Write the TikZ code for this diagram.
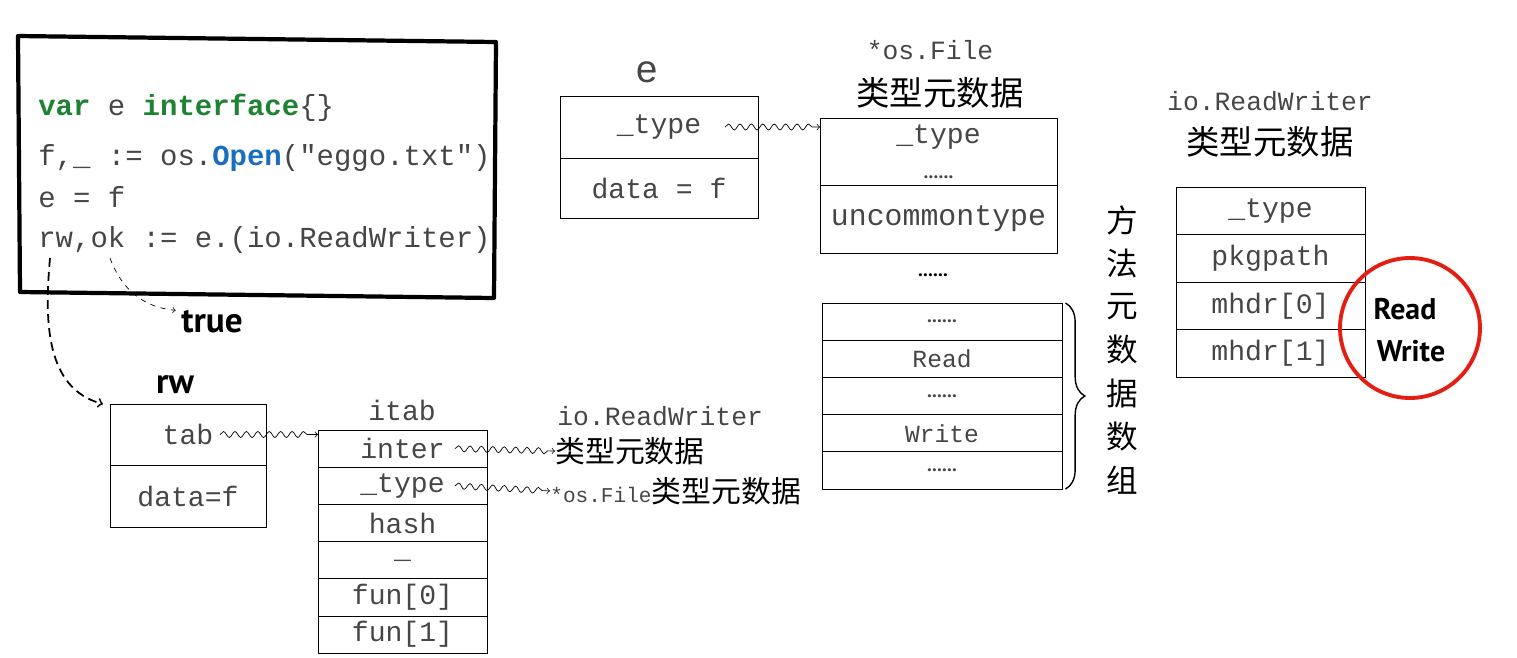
\documentclass[tikz,border=0pt]{standalone}
\usepackage{fontspec}
\usepackage{xcolor}
\usetikzlibrary{positioning,decorations.pathmorphing,decorations.pathreplacing}
\setmonofont{Liberation Mono}
\newfontfamily\cjk{Noto Sans CJK SC}
\newfontfamily\hand{PT Sans}
\definecolor{kwgreen}{RGB}{30,130,50}
\definecolor{kwblue}{RGB}{25,110,190}
\definecolor{txtgray}{RGB}{70,70,70}
\definecolor{markred}{RGB}{228,30,20}
\newcommand{\dotrow}{{\hand\bfseries\fontsize{11}{12}\selectfont ......}}

\begin{document}
\begin{tikzpicture}[x=0.02cm,y=-0.02cm]
        \tikzstyle{codeline}=[anchor=base west, inner sep=0pt, text=txtgray, font=\ttfamily\fontsize{16.5}{18}\selectfont]
        \tikzstyle{cell}=[rectangle, draw=black, thin, inner sep=0pt, outer sep=0pt, text=txtgray, font=\ttfamily\fontsize{16}{18}\selectfont]
        \tikzstyle{small cell}=[cell, font=\ttfamily\fontsize{14}{16}\selectfont]
        \tikzstyle{mono}=[inner sep=0pt, text=txtgray, font=\ttfamily\fontsize{15}{17}\selectfont]
        \tikzstyle{cjklabel}=[inner sep=0pt, font=\cjk\fontsize{19}{22}\selectfont]
        \tikzstyle{hw}=[inner sep=0pt, font=\hand\bfseries\fontsize{20}{22}\selectfont]
        \tikzstyle{wavy}=[->, decorate, decoration={snake, amplitude=1.7pt, segment length=6.5pt, post length=4pt}]

        \useasboundingbox (0,0) rectangle (1517,657);

        % code
        \draw[line width=2.4pt, line join=round] (18,36) -- (496,42) -- (494,298) -- (20,292) -- cycle;
        \node[codeline] (line1) at (38,115) {\textcolor{kwgreen}{\textbf{var}} e \textcolor{kwgreen}{\textbf{interface}}\{\}};
        \node[codeline] (line2) at (38,165) {f,\_ := os.\textcolor{kwblue}{\textbf{Open}}("eggo.txt")};
        \node[codeline] (line3) at (38,207) {e = f};
        \node[codeline] (line4) at (38,247) {rw,ok := e.(io.ReadWriter)};
        \coordinate (rw-src) at (50,258);
        \coordinate (ok-src) at (110,258);

        \node[hw] (true) at (212,322) {true};
        \draw[->, dashed, thin] (ok-src) to[out=-70, in=175] ([xshift=-3pt]true.north west);

        % rw
        \node[hw] (rw-name) at (175,385) {rw};
        \node[cell, minimum width=3.12cm, minimum height=1.22cm] (rw-tab) at (188,434.5) {tab};
        \node[cell, minimum width=3.12cm, minimum height=1.24cm, below=0pt of rw-tab] (rw-data) {data=f};
        \draw[->, line width=1pt, dash pattern=on 5pt off 3pt] (rw-src) to[out=-95, in=165] ([xshift=-4pt]rw-tab.north west);

        % itab
        \node[mono, font=\ttfamily\fontsize{16}{18}\selectfont] (itab-name) at (402,410) {itab};
        \foreach \name [count=\i] in {inter, \_type, hash, \_, fun[0], fun[1]}
            \node[cell, minimum width=3.38cm, minimum height=0.744cm] (itab-\i) at (402.5,{430+37.2*\i-18.6}) {\name};
        \draw[wavy] ([xshift=-0.92cm]rw-tab.east) -- (itab-1.west |- rw-tab.east);

        \node[mono, anchor=west] (rwtype-name) at (557,416) {io.ReadWriter};
        \node[cjklabel, anchor=west, font=\cjk\fontsize{17}{20}\selectfont] (rwtype) at (555,451) {类型元数据};
        \node[anchor=west, inner sep=0pt] (filetype) at (550,491) {{\ttfamily\color{txtgray}\fontsize{12}{14}\selectfont *os.File}{\cjk\fontsize{17}{20}\selectfont 类型元数据}};
        \draw[wavy] ([xshift=-0.64cm]itab-1.east) -- (rwtype.west);
        \draw[wavy] ([xshift=-0.64cm]itab-2.east) -- (filetype.west);

        % e
        \node[mono, font=\ttfamily\fontsize{22}{24}\selectfont] (e-name) at (647,72) {e};
        \node[cell, minimum width=3.96cm, minimum height=1.24cm] (e-type) at (659,127) {\_type};
        \node[cell, minimum width=3.96cm, minimum height=1.2cm, below=0pt of e-type] (e-data) {data = f};

        % *os.File
        \node[mono] (file-name) at (930,50) {*os.File};
        \node[cjklabel] (file-title) at (940,93) {类型元数据};
        \node[cell, minimum width=4.74cm, minimum height=1.34cm, align=center] (file-type) at (938.5,151.5) {\_type\\[2pt]\dotrow};
        \node[cell, minimum width=4.74cm, minimum height=1.36cm, font=\ttfamily\fontsize{17}{19}\selectfont, below=0pt of file-type] (file-unc) {uncommontype};
        \draw[wavy] ([xshift=-0.66cm]e-type.east) -- (file-type.west |- e-type.east);
        \node (file-more) at (933,275) {\dotrow};

        % methods
        \foreach \name [count=\i] in {\dotrow, Read, \dotrow, Write, \dotrow}
            \node[small cell, minimum width=4.8cm, minimum height=0.744cm] (arr-\i) at (942,{303+37.2*\i-18.6}) {\name};
        \draw[decorate, decoration={brace, amplitude=11pt}, thick] ([xshift=2pt]arr-1.north east) -- ([xshift=2pt]arr-5.south east);
        \foreach \ch [count=\i] in {方,法,元,数,据,数,组}
            \node[cjklabel, font=\cjk\fontsize{18}{20}\selectfont] (vert-\i) at (1122,{220+43.3*(\i-1)}) {\ch};

        % io.ReadWriter
        \node[mono] (iorw-name) at (1270,101) {io.ReadWriter};
        \node[cjklabel] (iorw-title) at (1270,142) {类型元数据};
        \foreach \name [count=\i] in {\_type, pkgpath, mhdr[0], mhdr[1]}
            \node[cell, minimum width=3.78cm, minimum height=0.95cm] (iorw-\i) at (1270.5,{187+47.5*\i-23.75}) {\name};

        \node[circle, draw=markred, line width=2.2pt, minimum size=2.8cm] (mark) at (1410,328) {};
        \node[hw, font=\hand\bfseries\fontsize{17}{19}\selectfont] (m-read) at (1405,309) {Read};
        \node[hw, font=\hand\bfseries\fontsize{17}{19}\selectfont] (m-write) at (1411,351) {Write};
    \end{tikzpicture}
\end{document}
